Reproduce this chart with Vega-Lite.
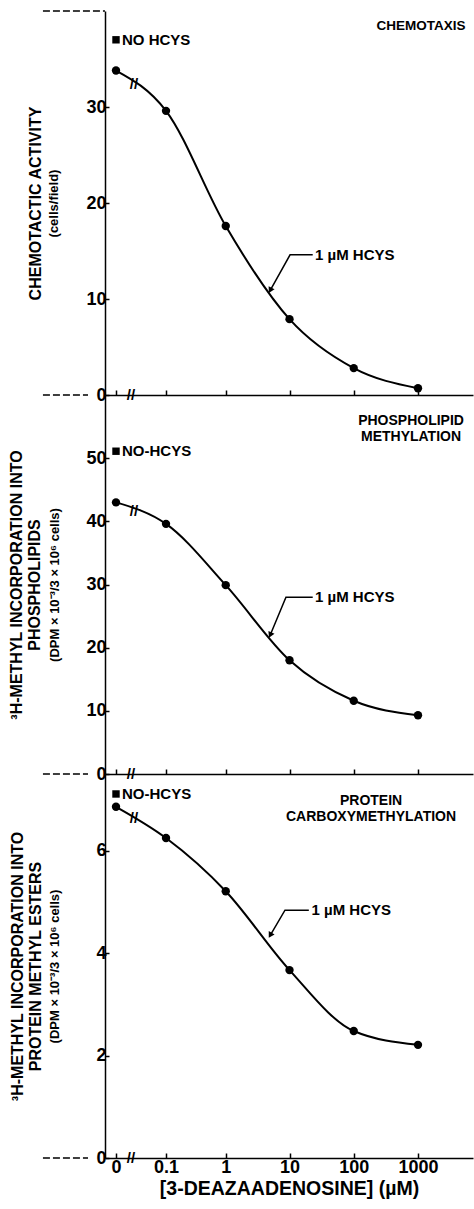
{
  "$schema": "https://vega.github.io/schema/vega-lite/v6.json",
  "background": "white",
  "padding": {"left": 8, "top": 10, "right": 4, "bottom": 2},
  "spacing": 0,
  "bounds": "flush",
  "config": {
    "view": {"stroke": null},
    "font": "Liberation Sans",
    "axis": {
      "domainColor": "black", "domainWidth": 1.5, "tickColor": "black", "tickWidth": 1.5,
      "labelColor": "black", "titleColor": "black", "labelFont": "Liberation Sans", "titleFont": "Liberation Sans",
      "labelFontWeight": "bold", "titleFontWeight": "bold", "grid": false, "labelFlush": false
    },
    "text": {"font": "Liberation Sans", "fontWeight": "bold", "color": "black"}
  },
  "datasets": {
    "curve": [
      {"panel": "A", "dose": 0, "value": 33.8}, {"panel": "A", "dose": 0.1, "value": 29.6}, {"panel": "A", "dose": 1, "value": 17.6},
      {"panel": "A", "dose": 10, "value": 7.9}, {"panel": "A", "dose": 100, "value": 2.8}, {"panel": "A", "dose": 1000, "value": 0.7},
      {"panel": "B", "dose": 0, "value": 43.0}, {"panel": "B", "dose": 0.1, "value": 39.6}, {"panel": "B", "dose": 1, "value": 29.9},
      {"panel": "B", "dose": 10, "value": 18.0}, {"panel": "B", "dose": 100, "value": 11.6}, {"panel": "B", "dose": 1000, "value": 9.3},
      {"panel": "C", "dose": 0, "value": 6.86}, {"panel": "C", "dose": 0.1, "value": 6.25}, {"panel": "C", "dose": 1, "value": 5.21},
      {"panel": "C", "dose": 10, "value": 3.67}, {"panel": "C", "dose": 100, "value": 2.48}, {"panel": "C", "dose": 1000, "value": 2.21}
    ],
    "nohcys": [
      {"panel": "A", "dose": 0, "value": 37.0, "label": "NO HCYS"},
      {"panel": "B", "dose": 0, "value": 51.1, "label": "NO-HCYS"},
      {"panel": "C", "dose": 0, "value": 7.11, "label": "NO-HCYS"}
    ],
    "leader": [
      {"panel": "A", "ord": 1, "dose": 23, "value": 14.6}, {"panel": "A", "ord": 2, "dose": 10.2, "value": 14.6}, {"panel": "A", "ord": 3, "dose": 5, "value": 10.9},
      {"panel": "B", "ord": 1, "dose": 23, "value": 28.0}, {"panel": "B", "ord": 2, "dose": 8.8, "value": 28.0}, {"panel": "B", "ord": 3, "dose": 5, "value": 22.0},
      {"panel": "C", "ord": 1, "dose": 20, "value": 4.84}, {"panel": "C", "ord": 2, "dose": 8.5, "value": 4.84}, {"panel": "C", "ord": 3, "dose": 5, "value": 4.35}
    ],
    "hcys": [
      {"panel": "A", "dose": 25, "value": 14.6, "label": "1 µM HCYS"},
      {"panel": "B", "dose": 25, "value": 28.0, "label": "1 µM HCYS"},
      {"panel": "C", "dose": 22, "value": 4.84, "label": "1 µM HCYS"}
    ],
    "breaks": [
      {"panel": "A", "dose": 0.0142, "value": 0}, {"panel": "A", "dose": 0.018, "value": 32.4},
      {"panel": "B", "dose": 0.0142, "value": 0}, {"panel": "B", "dose": 0.018, "value": 41.7},
      {"panel": "C", "dose": 0.0142, "value": 0}, {"panel": "C", "dose": 0.018, "value": 6.64}
    ],
    "dash": [
      {"panel": "A", "dose": -0.254, "dose2": -0.0097, "value": 40},
      {"panel": "A", "dose": -0.254, "dose2": -0.0345, "value": 0},
      {"panel": "B", "dose": -0.254, "dose2": -0.0345, "value": 0},
      {"panel": "C", "dose": -0.254, "dose2": -0.0345, "value": 0}
    ],
    "plabel": [
      {"panel": "A", "dose": 5500, "value": 38.4, "label": "CHEMOTAXIS"},
      {"panel": "B", "dose": 779, "value": 55.9, "label": "PHOSPHOLIPID\nMETHYLATION"},
      {"panel": "C", "dose": 186, "value": 6.97, "label": "PROTEIN\nCARBOXYMETHYLATION"}
    ]
  },
  "vconcat": [
    {
      "width": 368, "height": 384,
      "resolve": {"axis": {"y": "independent"}},
      "layer": [
        {
          "data": {"name": "curve"}, "transform": [{"filter": "datum.panel == 'A'"}],
          "mark": {"type": "line", "interpolate": "monotone", "color": "black", "strokeWidth": 2},
          "encoding": {
            "x": {"field": "dose", "type": "quantitative",
              "scale": {"type": "symlog", "constant": 0.02, "domain": [-0.00966, 7178], "nice": false, "zero": false},
              "axis": {"title": null, "labels": false, "values": [0, 0.1, 1, 10, 100, 1000], "tickSize": -5}},
            "y": {"field": "value", "type": "quantitative",
              "scale": {"domain": [0, 40], "nice": false, "zero": false},
              "axis": {"title": "CHEMOTACTIC ACTIVITY", "titleFontSize": 16, "titlePadding": 42, "values": [0, 10, 20, 30],
                "tickSize": -4, "labelFontSize": 18, "labelPadding": 3}}
          }
        },
        {
          "data": {"name": "curve"}, "transform": [{"filter": "datum.panel == 'A'"}],
          "mark": {"type": "point", "filled": true, "color": "black", "size": 70, "opacity": 1},
          "encoding": {
            "x": {"field": "dose", "type": "quantitative"},
            "y": {"field": "value", "type": "quantitative",
              "axis": {"orient": "left", "title": "(cells/field)", "titleFontSize": 13, "labels": false, "ticks": false, "domain": false, "titlePadding": 45}}
          }
        },
        {
          "data": {"name": "dash"}, "transform": [{"filter": "datum.panel == 'A'"}],
          "mark": {"type": "rule", "strokeDash": [7, 3], "strokeWidth": 1.5, "color": "black"},
          "encoding": {"x": {"field": "dose", "type": "quantitative"}, "x2": {"field": "dose2"}, "y": {"field": "value", "type": "quantitative", "axis": null}}
        },
        {
          "data": {"name": "nohcys"}, "transform": [{"filter": "datum.panel == 'A'"}],
          "mark": {"type": "point", "shape": "square", "filled": true, "color": "black", "size": 55, "opacity": 1},
          "encoding": {"x": {"field": "dose", "type": "quantitative"}, "y": {"field": "value", "type": "quantitative", "axis": null}}
        },
        {
          "data": {"name": "nohcys"}, "transform": [{"filter": "datum.panel == 'A'"}],
          "mark": {"type": "text", "align": "left", "baseline": "middle", "dx": 6, "fontSize": 15},
          "encoding": {"x": {"field": "dose", "type": "quantitative"}, "y": {"field": "value", "type": "quantitative", "axis": null}, "text": {"field": "label"}}
        },
        {
          "data": {"name": "leader"}, "transform": [{"filter": "datum.panel == 'A'"}],
          "mark": {"type": "line", "color": "black", "strokeWidth": 1.5},
          "encoding": {"x": {"field": "dose", "type": "quantitative"}, "y": {"field": "value", "type": "quantitative", "axis": null}, "order": {"field": "ord"}}
        },
        {
          "data": {"name": "leader"}, "transform": [{"filter": "datum.panel == 'A' && datum.ord == 3"}],
          "mark": {"type": "point", "shape": "triangle-down", "angle": 28, "filled": true, "color": "black", "size": 45, "opacity": 1},
          "encoding": {"x": {"field": "dose", "type": "quantitative"}, "y": {"field": "value", "type": "quantitative", "axis": null}}
        },
        {
          "data": {"name": "hcys"}, "transform": [{"filter": "datum.panel == 'A'"}],
          "mark": {"type": "text", "align": "left", "baseline": "middle", "fontSize": 15},
          "encoding": {"x": {"field": "dose", "type": "quantitative"}, "y": {"field": "value", "type": "quantitative", "axis": null}, "text": {"field": "label"}}
        },
        {
          "data": {"name": "breaks"}, "transform": [{"filter": "datum.panel == 'A'"}],
          "mark": {"type": "text", "align": "center", "baseline": "middle", "fontSize": 15, "text": "//"},
          "encoding": {"x": {"field": "dose", "type": "quantitative"}, "y": {"field": "value", "type": "quantitative", "axis": null}}
        },
        {
          "data": {"name": "plabel"}, "transform": [{"filter": "datum.panel == 'A'"}],
          "mark": {"type": "text", "align": "right", "baseline": "middle", "fontSize": 13.5, "lineBreak": "\n", "lineHeight": 16},
          "encoding": {"x": {"field": "dose", "type": "quantitative"}, "y": {"field": "value", "type": "quantitative", "axis": null}, "text": {"field": "label"}}
        }
      ]
    },
    {
      "width": 368, "height": 379,
      "resolve": {"axis": {"y": "independent"}},
      "layer": [
        {
          "data": {"name": "curve"}, "transform": [{"filter": "datum.panel == 'B'"}],
          "mark": {"type": "line", "interpolate": "monotone", "color": "black", "strokeWidth": 2},
          "encoding": {
            "x": {"field": "dose", "type": "quantitative",
              "scale": {"type": "symlog", "constant": 0.02, "domain": [-0.00966, 7178], "nice": false, "zero": false},
              "axis": {"title": null, "labels": false, "values": [0, 0.1, 1, 10, 100, 1000], "tickSize": -5}},
            "y": {"field": "value", "type": "quantitative",
              "scale": {"domain": [0, 60], "nice": false, "zero": false},
              "axis": {"title": ["³H-METHYL INCORPORATION INTO", "PHOSPHOLIPIDS"], "titleFontSize": 16, "titlePadding": 43, "values": [0, 10, 20, 30, 40, 50],
                "tickSize": -4, "labelFontSize": 18, "labelPadding": 3}}
          }
        },
        {
          "data": {"name": "curve"}, "transform": [{"filter": "datum.panel == 'B'"}],
          "mark": {"type": "point", "filled": true, "color": "black", "size": 70, "opacity": 1},
          "encoding": {
            "x": {"field": "dose", "type": "quantitative"},
            "y": {"field": "value", "type": "quantitative",
              "axis": {"orient": "left", "title": "(DPM × 10⁻³/3 × 10⁶ cells)", "titleFontSize": 13, "labels": false, "ticks": false, "domain": false, "titlePadding": 44}}
          }
        },
        {
          "data": {"name": "dash"}, "transform": [{"filter": "datum.panel == 'B'"}],
          "mark": {"type": "rule", "strokeDash": [7, 3], "strokeWidth": 1.5, "color": "black"},
          "encoding": {"x": {"field": "dose", "type": "quantitative"}, "x2": {"field": "dose2"}, "y": {"field": "value", "type": "quantitative", "axis": null}}
        },
        {
          "data": {"name": "nohcys"}, "transform": [{"filter": "datum.panel == 'B'"}],
          "mark": {"type": "point", "shape": "square", "filled": true, "color": "black", "size": 55, "opacity": 1},
          "encoding": {"x": {"field": "dose", "type": "quantitative"}, "y": {"field": "value", "type": "quantitative", "axis": null}}
        },
        {
          "data": {"name": "nohcys"}, "transform": [{"filter": "datum.panel == 'B'"}],
          "mark": {"type": "text", "align": "left", "baseline": "middle", "dx": 6, "fontSize": 15},
          "encoding": {"x": {"field": "dose", "type": "quantitative"}, "y": {"field": "value", "type": "quantitative", "axis": null}, "text": {"field": "label"}}
        },
        {
          "data": {"name": "leader"}, "transform": [{"filter": "datum.panel == 'B'"}],
          "mark": {"type": "line", "color": "black", "strokeWidth": 1.5},
          "encoding": {"x": {"field": "dose", "type": "quantitative"}, "y": {"field": "value", "type": "quantitative", "axis": null}, "order": {"field": "ord"}}
        },
        {
          "data": {"name": "leader"}, "transform": [{"filter": "datum.panel == 'B' && datum.ord == 3"}],
          "mark": {"type": "point", "shape": "triangle-down", "angle": 25, "filled": true, "color": "black", "size": 45, "opacity": 1},
          "encoding": {"x": {"field": "dose", "type": "quantitative"}, "y": {"field": "value", "type": "quantitative", "axis": null}}
        },
        {
          "data": {"name": "hcys"}, "transform": [{"filter": "datum.panel == 'B'"}],
          "mark": {"type": "text", "align": "left", "baseline": "middle", "fontSize": 15},
          "encoding": {"x": {"field": "dose", "type": "quantitative"}, "y": {"field": "value", "type": "quantitative", "axis": null}, "text": {"field": "label"}}
        },
        {
          "data": {"name": "breaks"}, "transform": [{"filter": "datum.panel == 'B'"}],
          "mark": {"type": "text", "align": "center", "baseline": "middle", "fontSize": 15, "text": "//"},
          "encoding": {"x": {"field": "dose", "type": "quantitative"}, "y": {"field": "value", "type": "quantitative", "axis": null}}
        },
        {
          "data": {"name": "plabel"}, "transform": [{"filter": "datum.panel == 'B'"}],
          "mark": {"type": "text", "align": "center", "baseline": "middle", "fontSize": 14, "lineBreak": "\n", "lineHeight": 16},
          "encoding": {"x": {"field": "dose", "type": "quantitative"}, "y": {"field": "value", "type": "quantitative", "axis": null}, "text": {"field": "label"}}
        }
      ]
    },
    {
      "width": 368, "height": 384,
      "resolve": {"axis": {"y": "independent"}},
      "layer": [
        {
          "data": {"name": "curve"}, "transform": [{"filter": "datum.panel == 'C'"}],
          "mark": {"type": "line", "interpolate": "monotone", "color": "black", "strokeWidth": 2},
          "encoding": {
            "x": {"field": "dose", "type": "quantitative",
              "scale": {"type": "symlog", "constant": 0.02, "domain": [-0.00966, 7178], "nice": false, "zero": false},
              "axis": {"title": "[3-DEAZAADENOSINE]  (µM)", "titleFontSize": 19.5, "titlePadding": 3, "values": [0, 0.1, 1, 10, 100, 1000], "format": ".1~f",
                "tickSize": -5, "labelFontSize": 18, "labelPadding": 5}},
            "y": {"field": "value", "type": "quantitative",
              "scale": {"domain": [0, 7.5], "nice": false, "zero": false},
              "axis": {"title": ["³H-METHYL INCORPORATION INTO", "PROTEIN METHYL ESTERS"], "titleFontSize": 16, "titlePadding": 52, "values": [0, 2, 4, 6],
                "tickSize": -4, "labelFontSize": 18, "labelPadding": 3}}
          }
        },
        {
          "data": {"name": "curve"}, "transform": [{"filter": "datum.panel == 'C'"}],
          "mark": {"type": "point", "filled": true, "color": "black", "size": 70, "opacity": 1},
          "encoding": {
            "x": {"field": "dose", "type": "quantitative"},
            "y": {"field": "value", "type": "quantitative",
              "axis": {"orient": "left", "title": "(DPM × 10⁻³/3 × 10⁶ cells)", "titleFontSize": 13, "labels": false, "ticks": false, "domain": false, "titlePadding": 44}}
          }
        },
        {
          "data": {"name": "dash"}, "transform": [{"filter": "datum.panel == 'C'"}],
          "mark": {"type": "rule", "strokeDash": [7, 3], "strokeWidth": 1.5, "color": "black"},
          "encoding": {"x": {"field": "dose", "type": "quantitative"}, "x2": {"field": "dose2"}, "y": {"field": "value", "type": "quantitative", "axis": null}}
        },
        {
          "data": {"name": "nohcys"}, "transform": [{"filter": "datum.panel == 'C'"}],
          "mark": {"type": "point", "shape": "square", "filled": true, "color": "black", "size": 55, "opacity": 1},
          "encoding": {"x": {"field": "dose", "type": "quantitative"}, "y": {"field": "value", "type": "quantitative", "axis": null}}
        },
        {
          "data": {"name": "nohcys"}, "transform": [{"filter": "datum.panel == 'C'"}],
          "mark": {"type": "text", "align": "left", "baseline": "middle", "dx": 6, "fontSize": 15},
          "encoding": {"x": {"field": "dose", "type": "quantitative"}, "y": {"field": "value", "type": "quantitative", "axis": null}, "text": {"field": "label"}}
        },
        {
          "data": {"name": "leader"}, "transform": [{"filter": "datum.panel == 'C'"}],
          "mark": {"type": "line", "color": "black", "strokeWidth": 1.5},
          "encoding": {"x": {"field": "dose", "type": "quantitative"}, "y": {"field": "value", "type": "quantitative", "axis": null}, "order": {"field": "ord"}}
        },
        {
          "data": {"name": "leader"}, "transform": [{"filter": "datum.panel == 'C' && datum.ord == 3"}],
          "mark": {"type": "point", "shape": "triangle-down", "angle": 30, "filled": true, "color": "black", "size": 45, "opacity": 1},
          "encoding": {"x": {"field": "dose", "type": "quantitative"}, "y": {"field": "value", "type": "quantitative", "axis": null}}
        },
        {
          "data": {"name": "hcys"}, "transform": [{"filter": "datum.panel == 'C'"}],
          "mark": {"type": "text", "align": "left", "baseline": "middle", "fontSize": 15},
          "encoding": {"x": {"field": "dose", "type": "quantitative"}, "y": {"field": "value", "type": "quantitative", "axis": null}, "text": {"field": "label"}}
        },
        {
          "data": {"name": "breaks"}, "transform": [{"filter": "datum.panel == 'C'"}],
          "mark": {"type": "text", "align": "center", "baseline": "middle", "fontSize": 15, "text": "//"},
          "encoding": {"x": {"field": "dose", "type": "quantitative"}, "y": {"field": "value", "type": "quantitative", "axis": null}}
        },
        {
          "data": {"name": "plabel"}, "transform": [{"filter": "datum.panel == 'C'"}],
          "mark": {"type": "text", "align": "center", "baseline": "middle", "fontSize": 14, "lineBreak": "\n", "lineHeight": 16},
          "encoding": {"x": {"field": "dose", "type": "quantitative"}, "y": {"field": "value", "type": "quantitative", "axis": null}, "text": {"field": "label"}}
        }
      ]
    }
  ]
}
